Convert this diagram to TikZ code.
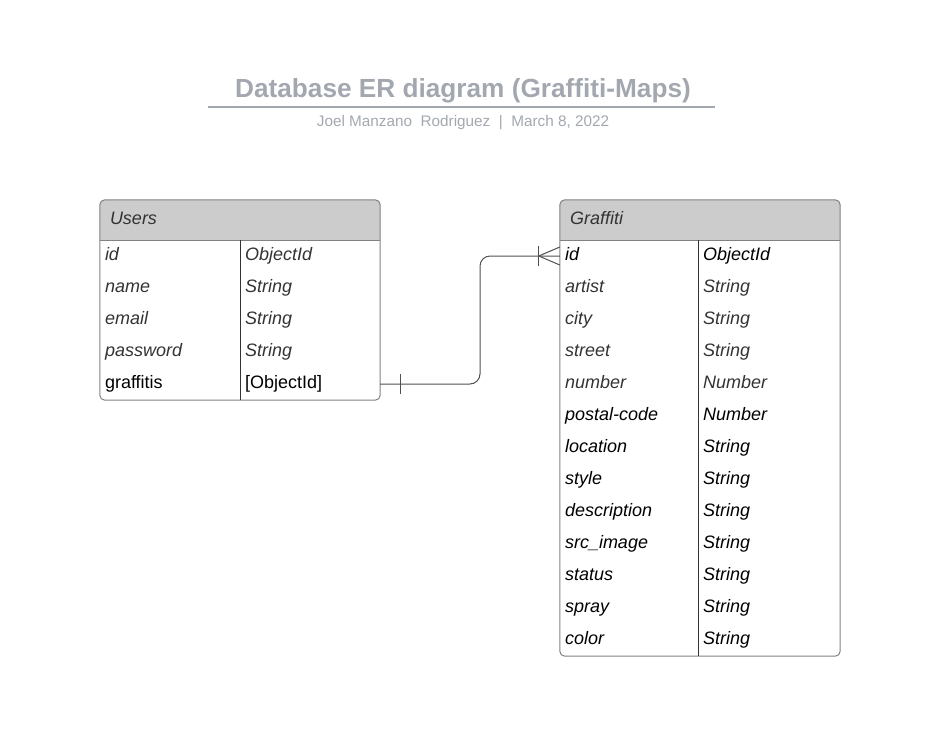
\documentclass[tikz,border=0pt]{standalone}
\usepackage{fontspec}
\setmainfont{Liberation Sans}
\usepackage{xcolor}
\usepackage{tikz}
\usetikzlibrary{backgrounds}

\begin{document}
\begin{tikzpicture}[x=1pt,y=1pt]
    \definecolor{mytitle}{RGB}{163,168,176}
    \definecolor{myhead}{RGB}{204,204,204}
    \definecolor{myborder}{RGB}{130,130,130}
    \definecolor{mytext}{RGB}{51,51,51}
    \definecolor{myline}{RGB}{80,80,80}

    \useasboundingbox (0,0) rectangle (942,-731);

    % 表格单元格样式
    \tikzstyle{cell}=[rectangle,inner xsep=5pt,inner ysep=0pt,minimum height=32pt,text height=13pt,text depth=5pt,align=left,font=\fontsize{18pt}{21pt}\selectfont\itshape]
    \tikzstyle{ucell}=[cell,text width=130pt]   % Users 两列
    \tikzstyle{gkey}=[cell,text width=128pt]    % Graffiti 字段列
    \tikzstyle{gtype}=[cell,text width=132pt]   % Graffiti 类型列
    \tikzstyle{head}=[rectangle,inner xsep=10pt,inner ysep=0pt,minimum height=40pt,text width=260pt,text height=13pt,text depth=5pt,align=left,text=mytext,font=\fontsize{18pt}{21pt}\selectfont\itshape]
    \tikzstyle{border}=[draw=myborder,line width=1pt]
    \tikzstyle{divline}=[draw=mytext,line width=1pt]
    \tikzstyle{conn}=[draw=myline,line width=1pt]

    % 标题
    \node[font=\fontsize{26.2pt}{30pt}\selectfont\bfseries,text=mytitle](title) at (463,-91){Database ER diagram (Graffiti-Maps)};
    \draw[mytitle,line width=2pt] (208,-107) -- (715,-107);
    \node[font=\fontsize{15.3pt}{18pt}\selectfont,text=mytitle](author) at (463,-123){Joel Manzano\ \ Rodriguez\ \ |\ \ March 8, 2022};

    % Users 表
    \node[head](uhead) at (240,-220){Users};
    \node[ucell,text=mytext](uid) at (170,-256){id};
    \node[ucell,text=mytext,right of=uid,node distance=140pt](uidT){ObjectId};
    \node[ucell,text=mytext,below of=uid,node distance=32pt](uname){name};
    \node[ucell,text=mytext,right of=uname,node distance=140pt](unameT){String};
    \node[ucell,text=mytext,below of=uname,node distance=32pt](uemail){email};
    \node[ucell,text=mytext,right of=uemail,node distance=140pt](uemailT){String};
    \node[ucell,text=mytext,below of=uemail,node distance=32pt](upassword){password};
    \node[ucell,text=mytext,right of=upassword,node distance=140pt](upasswordT){String};
    \node[ucell,below of=upassword,node distance=32pt](ugraffitis){\upshape graffitis};
    \node[ucell,right of=ugraffitis,node distance=140pt](ugraffitisT){\upshape [ObjectId]};

    % Graffiti 表
    \node[head](ghead) at (700,-220){Graffiti};
    \node[gkey](gid) at (629,-256){id};
    \node[gtype,right of=gid,node distance=140pt](gidT){ObjectId};
    \node[gkey,text=mytext,below of=gid,node distance=32pt](gartist){artist};
    \node[gtype,text=mytext,right of=gartist,node distance=140pt](gartistT){String};
    \node[gkey,text=mytext,below of=gartist,node distance=32pt](gcity){city};
    \node[gtype,text=mytext,right of=gcity,node distance=140pt](gcityT){String};
    \node[gkey,text=mytext,below of=gcity,node distance=32pt](gstreet){street};
    \node[gtype,text=mytext,right of=gstreet,node distance=140pt](gstreetT){String};
    \node[gkey,text=mytext,below of=gstreet,node distance=32pt](gnumber){number};
    \node[gtype,text=mytext,right of=gnumber,node distance=140pt](gnumberT){Number};
    \node[gkey,below of=gnumber,node distance=32pt](gpostal){postal-code};
    \node[gtype,right of=gpostal,node distance=140pt](gpostalT){Number};
    \node[gkey,below of=gpostal,node distance=32pt](glocation){location};
    \node[gtype,right of=glocation,node distance=140pt](glocationT){String};
    \node[gkey,below of=glocation,node distance=32pt](gstyle){style};
    \node[gtype,right of=gstyle,node distance=140pt](gstyleT){String};
    \node[gkey,below of=gstyle,node distance=32pt](gdesc){description};
    \node[gtype,right of=gdesc,node distance=140pt](gdescT){String};
    \node[gkey,below of=gdesc,node distance=32pt](gsrc){src\_image};
    \node[gtype,right of=gsrc,node distance=140pt](gsrcT){String};
    \node[gkey,below of=gsrc,node distance=32pt](gstatus){status};
    \node[gtype,right of=gstatus,node distance=140pt](gstatusT){String};
    \node[gkey,below of=gstatus,node distance=32pt](gspray){spray};
    \node[gtype,right of=gspray,node distance=140pt](gsprayT){String};
    \node[gkey,below of=gspray,node distance=32pt](gcolor){color};
    \node[gtype,right of=gcolor,node distance=140pt](gcolorT){String};

    % 表头底色
    \begin{pgfonlayer}{background}
        \fill[myhead] (uhead.south west) [rounded corners=5pt] -- (uhead.north west) -- (uhead.north east) [sharp corners] -- (uhead.south east) -- cycle;
        \fill[myhead] (ghead.south west) [rounded corners=5pt] -- (ghead.north west) -- (ghead.north east) [sharp corners] -- (ghead.south east) -- cycle;
    \end{pgfonlayer}

    % 表格边框
    \draw[border,rounded corners=5pt] (uhead.north west) rectangle (ugraffitisT.south east);
    \draw[border] (uhead.south west) -- (uhead.south east);
    \draw[divline] (uid.north east) -- (ugraffitis.south east);
    \draw[border,rounded corners=5pt] (ghead.north west) rectangle (gcolorT.south east);
    \draw[border] (ghead.south west) -- (ghead.south east);
    \draw[divline] (gid.north east) -- (gcolor.south east);

    % 关系连线 (一对多)
    \coordinate (bend) at (480,-320);
    \draw[conn,rounded corners=10pt] (ugraffitisT.east) -- (ugraffitisT.east -| bend) -- (gid.west -| bend) -- (gid.west);
    \draw[conn] ([xshift=20pt,yshift=-10pt]ugraffitisT.east) -- ([xshift=20pt,yshift=10pt]ugraffitisT.east);
    \draw[conn] ([xshift=-21pt,yshift=-10pt]gid.west) -- ([xshift=-21pt,yshift=10pt]gid.west);
    \draw[conn] ([yshift=-9pt]gid.west) -- ([xshift=-21pt]gid.west) -- ([yshift=9pt]gid.west);
\end{tikzpicture}
\end{document}
